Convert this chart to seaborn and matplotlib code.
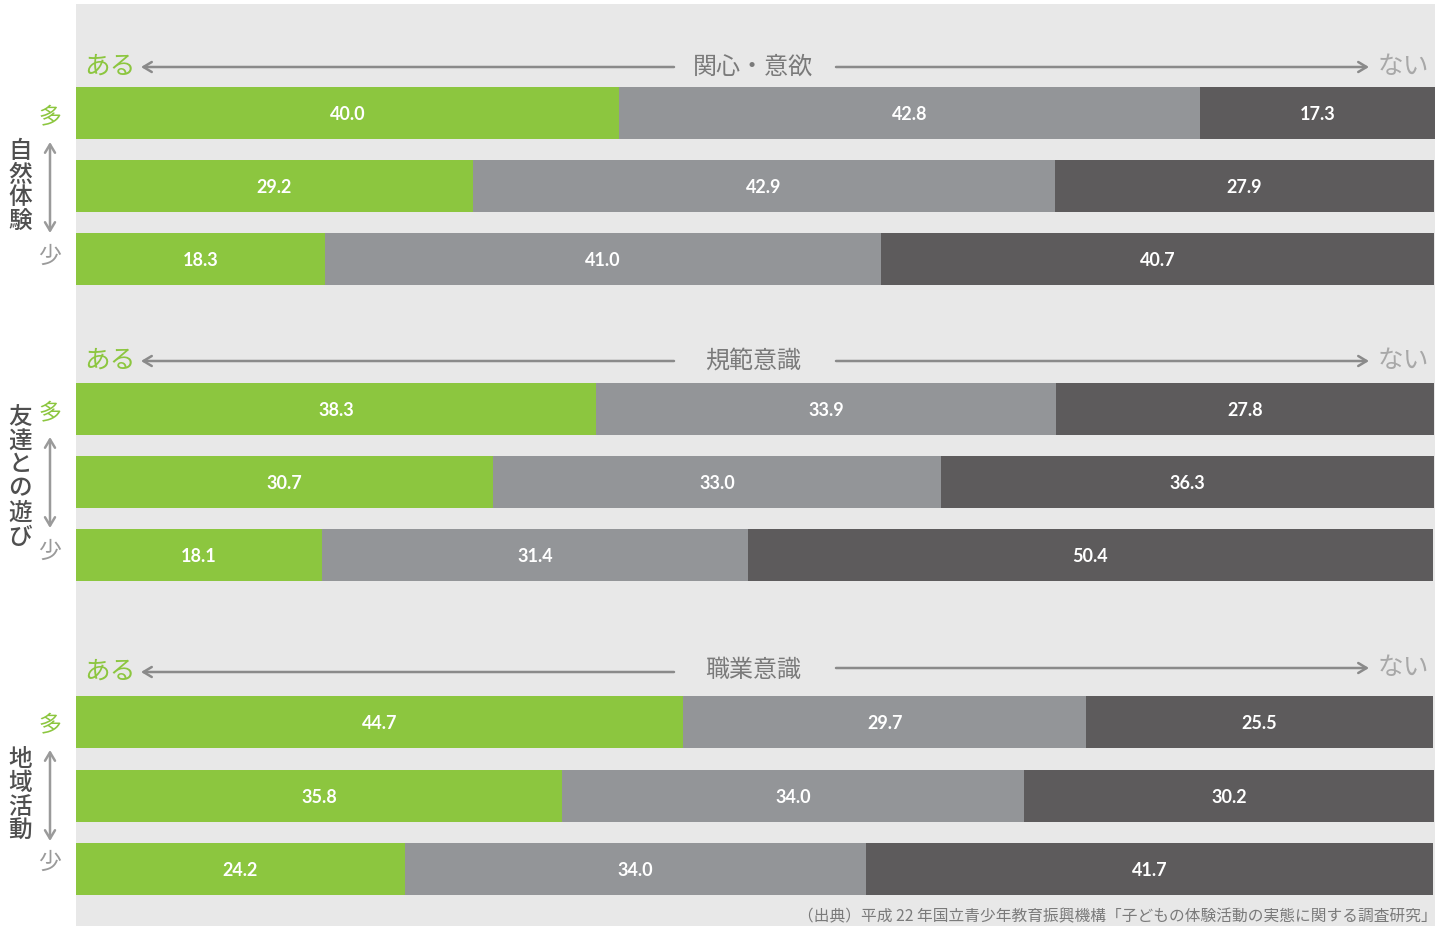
import numpy as np
import pandas as pd
import matplotlib
matplotlib.use("Agg")
import matplotlib.pyplot as plt
import seaborn as sns

# ---- data -------------------------------------------------------------
sections = ["関心・意欲", "規範意識", "職業意識"]
groups = ["自然体験", "友達との遊び", "地域活動"]
levels = ["多", "中", "少"]
ある_values = [40.0, 29.2, 18.3, 38.3, 30.7, 18.1, 44.7, 35.8, 24.2]
中間_values = [42.8, 42.9, 41.0, 33.9, 33.0, 31.4, 29.7, 34.0, 34.0]
ない_values = [17.3, 27.9, 40.7, 27.8, 36.3, 50.4, 25.5, 30.2, 41.7]
source_text = "（出典）平成 22 年国立青少年教育振興機構「子どもの体験活動の実態に関する調査研究」"

# ---- layout (figure pixels) ------------------------------------------
W, H = 1442, 926
row_y = [113, 186, 259, 409, 482, 555, 722, 796, 869]
bar_h = 52
header_y = [(67, 67), (361, 361), (672, 668)]
few_y = [117, 413, 725]
many_y = [256, 551, 862]
arrow_span = [(142, 233), (437, 528), (750, 841)]
group_char_y = [
    [152, 175, 198, 221],
    [417, 441, 465, 489, 513, 537],
    [760, 783, 807, 830],
]

GREEN = "#8cc63f"
MID = "#939598"
DARK = "#5d5b5c"
PANEL = "#e8e8e8"

sns.set_theme(style="white")
plt.rcParams["font.family"] = ["Noto Sans CJK JP", "DejaVu Sans"]

fig = plt.figure(figsize=(W / 100, H / 100), dpi=100)
fig.patch.set_facecolor("white")

# main bar axes: x in percent, y in pixel rows
ax_left, ax_right, ax_top = 76, 1435, 4
scale = 13.58  # px per percent
ax = fig.add_axes([ax_left / W, 0, (ax_right - ax_left) / W, (H - ax_top) / H])
ax.set_facecolor(PANEL)

df = pd.DataFrame({
    "y": row_y,
    "a": ある_values,
    "b": 中間_values,
    "c": ない_values,
})
df["ab"] = df["a"] + df["b"]
df["abc"] = df["ab"] + df["c"]

w = bar_h / 73.0
for col, colr in [("abc", DARK), ("ab", MID), ("a", GREEN)]:
    sns.barplot(data=df, x=col, y="y", orient="h", native_scale=True,
                color=colr, width=w, errorbar=None, saturation=1,
                linewidth=0, ax=ax)

ax.set_xlim(0, (ax_right - ax_left) / scale)
ax.set_ylim(H, ax_top)
ax.set_xlabel("")
ax.set_ylabel("")
ax.set_xticks([])
ax.set_yticks([])
for s in ax.spines.values():
    s.set_visible(False)

num_font = dict(color="white", fontsize=13, fontweight="bold",
                family=["Lato", "DejaVu Sans"], ha="center", va="center")
for _, r in df.iterrows():
    yy = r["y"] + 1.5
    ax.text(r["a"] / 2, yy, f"{r['a']:.1f}", **num_font)
    ax.text(r["a"] + r["b"] / 2, yy, f"{r['b']:.1f}", **num_font)
    ax.text(r["ab"] + r["c"] / 2, yy, f"{r['c']:.1f}", **num_font)

# overlay for headers, side labels and source
ov = fig.add_axes([0, 0, 1, 1], facecolor="none")
ov.set_xlim(0, W)
ov.set_ylim(H, 0)
ov.axis("off")

arrow_col = "#8a8a8a"
for title, (yl, yr) in zip(sections, header_y):
    ov.text(110, yl, "ある", color=GREEN, fontsize=18.5, ha="center", va="center")
    ov.annotate("", xy=(141, yl), xytext=(674, yl),
                arrowprops=dict(arrowstyle="->,head_length=0.5,head_width=0.3",
                                color=arrow_col, lw=1.8, shrinkA=0, shrinkB=0))
    ov.text(753, (yl + yr) / 2, title, color="#7a7a7a", fontsize=17.3,
            ha="center", va="center")
    ov.annotate("", xy=(1369, yr), xytext=(836, yr),
                arrowprops=dict(arrowstyle="->,head_length=0.5,head_width=0.3",
                                color=arrow_col, lw=1.8, shrinkA=0, shrinkB=0))
    ov.text(1403, yr, "ない", color="#a8a8a8", fontsize=18.5,
            ha="center", va="center")

for g, fy, my, (a0, a1), cys in zip(groups, few_y, many_y, arrow_span, group_char_y):
    ov.text(50, fy, "多", color=GREEN, fontsize=16.5, ha="center", va="center")
    ov.text(50, my, "少", color="#9a9a9a", fontsize=16.5, ha="center", va="center")
    ov.annotate("", xy=(50, a0), xytext=(50, a1),
                arrowprops=dict(arrowstyle="<->,head_length=0.5,head_width=0.3",
                                color="#9a9a9a", lw=1.8, shrinkA=0, shrinkB=0))
    for ch, cy in zip(g, cys):
        ov.text(20, cy, ch, color="#4f4f4f", fontsize=17, fontweight="medium",
                ha="center", va="center")

ov.text(1437, 917, source_text, color="#7a7a7a", fontsize=11.3,
        ha="right", va="center")

fig.savefig("out.png", dpi=100, facecolor="white")
